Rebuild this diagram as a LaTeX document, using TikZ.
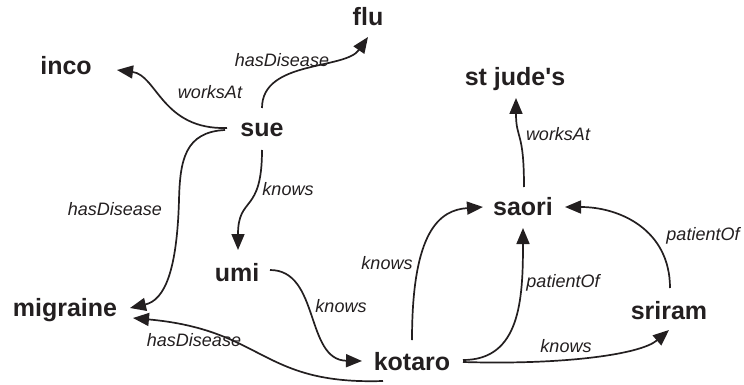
\documentclass[tikz,border=0pt]{standalone}
\usepackage{fontspec}
\setmainfont{Liberation Sans}
\usepackage{xcolor}
\usetikzlibrary{arrows.meta}

\definecolor{ink}{HTML}{231F20}
\tikzset{
  ent/.style={inner sep=0pt, text=ink, font=\fontsize{25}{30}\selectfont\bfseries},
  rel/.style={inner sep=0pt, text=ink, font=\fontsize{18}{22}\selectfont\itshape},
  link/.style={draw=ink, line width=1.7pt, -{Triangle[length=16pt,width=13pt]}},
}

\begin{document}
\begin{tikzpicture}[x=1pt,y=-1pt]
    \useasboundingbox (0,0) rectangle (744,385);

    \node[ent] (flu) at (368,17) {flu};
    \node[ent] (inco) at (66,66) {inco};
    \node[ent] (sue) at (262,130) {sue};
    \node[ent] (stjude) at (515,79) {st jude\textquotesingle s};
    \node[ent] (saori) at (523,207) {saori};
    \node[ent] (umi) at (237,273) {umi};
    \node[ent] (migraine) at (65,310) {migraine};
    \node[ent] (kotaro) at (412,362) {kotaro};
    \node[ent] (sriram) at (669,311) {sriram};

    \draw[link] ([shift={(-35,-2)}]sue.center) .. controls (162,130) and (157,75) .. ([shift={(51,4)}]inco.center);
    \draw[link] ([shift={(0,-22)}]sue.center) .. controls (262,60) and (345,70) .. ([shift={(0,20)}]flu.center);
    \draw[link] ([shift={(-37,0)}]sue.center) .. controls (185,132) and (180,160) .. (179,200)
        .. controls (177,270) and (165,300) .. ([shift={(65,-2)}]migraine.center);
    \draw[link] ([shift={(0,20)}]sue.center) .. controls (262,215) and (238,195) .. ([shift={(1,-23)}]umi.center);
    \draw[link] ([shift={(33,-3)}]umi.center) .. controls (320,270) and (305,360) .. ([shift={(-50,-1)}]kotaro.center);
    \draw[link] ([shift={(-29,19)}]kotaro.center) .. controls (260,385) and (265,330) .. ([shift={(68,8)}]migraine.center);
    \draw[link] ([shift={(0,-22)}]kotaro.center) .. controls (412,230) and (440,210) .. ([shift={(-40,0)}]saori.center);
    \draw[link] ([shift={(51,-2)}]kotaro.center) .. controls (520,360) and (523,300) .. ([shift={(0,21)}]saori.center);
    \draw[link] ([shift={(51,0)}]kotaro.center) .. controls (560,365) and (640,355) .. ([shift={(0,19)}]sriram.center);
    \draw[link] ([shift={(1,-23)}]sriram.center) .. controls (670,230) and (620,207) .. ([shift={(42,0)}]saori.center);
    \draw[link] ([shift={(1,-20)}]saori.center) .. controls (524,130) and (516,140) .. ([shift={(1,19)}]stjude.center);

    % edge labels
    \node[rel] (l1) at (210,92) {worksAt};
    \node[rel] (l2) at (282,60) {hasDisease};
    \node[rel] (l3) at (115,209) {hasDisease};
    \node[rel] (l4) at (288,189) {knows};
    \node[rel] (l5) at (341,306) {knows};
    \node[rel] (l6) at (194,340) {hasDisease};
    \node[rel] (l7) at (387,263) {knows};
    \node[rel] (l8) at (563,283) {patientOf};
    \node[rel] (l9) at (566,346) {knows};
    \node[rel] (l10) at (703,236) {patientOf};
    \node[rel] (l11) at (558,134) {worksAt};
\end{tikzpicture}
\end{document}
